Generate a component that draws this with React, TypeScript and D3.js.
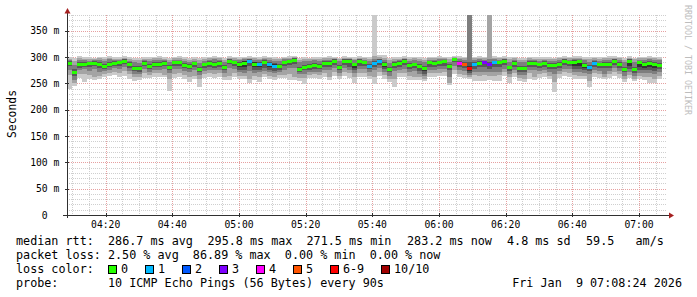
import React from "react";
import * as d3 from "d3";

// ---- time range (UTC used so the sandbox timezone does not matter) ----
const START = Date.UTC(2026, 0, 9, 4, 8, 24);
const END = Date.UTC(2026, 0, 9, 7, 8, 24);
const STEP_MS = 90 * 1000;

// ---- median rtt per 90 s step (ms) ----
const median = [
  289, 272, 286, 287, 288, 289, 287, 283, 287, 289,
  290, 293, 286, 279, 279, 289, 283, 287, 287, 289,
  282, 290, 290, 285, 283, 288, 277, 286, 289, 287,
  289, 282, 293, 290, 286, 288, 293, 286, 286, 290,
  286, 283, 283, 290, 292, 295, 278, 281, 283, 285,
  283, 289, 289, 293, 282, 293, 293, 286, 293, 290,
  283, 289, 293, 286, 278, 287, 289, 293, 285, 286,
  283, 279, 290, 289, 290, 292, 283, 296, 288, 286,
  279, 286, 289, 290, 286, 290, 290, 293, 281, 289,
  279, 279, 289, 289, 286, 289, 285, 285, 287, 293,
  290, 290, 292, 285, 281, 289, 286, 287, 287, 293,
  287, 278, 293, 278, 290, 287, 289, 287, 285,
];

// ---- lost pings per step (of 10) ----
const loss = [
  0, 0, 0, 0, 0, 0, 0, 0, 0, 0,
  0, 0, 0, 0, 0, 0, 0, 0, 0, 0,
  0, 0, 0, 0, 0, 0, 0, 0, 0, 0,
  0, 0, 0, 0, 0, 0, 1, 0, 1, 0,
  1, 1, 0, 0, 0, 0, 0, 0, 0, 0,
  0, 0, 0, 0, 0, 0, 0, 0, 0, 0,
  1, 1, 1, 0, 0, 0, 0, 0, 0, 0,
  0, 0, 0, 0, 0, 0, 0, 0, 4, 5,
  8, 1, 0, 3, 3, 1, 0, 0, 0, 0,
  0, 0, 0, 0, 0, 0, 0, 0, 0, 0,
  0, 0, 0, 0, 1, 1, 0, 0, 0, 0,
  0, 0, 0, 0, 0, 0, 0, 0, 0,
];

// ---- sorted ping values per step (ms), ping10 = highest, ping1 = lowest ----
const ping10 = [
  300, 298, 302, 301, 300, 299, 301, 300, 302, 301,
  300, 302, 301, 299, 298, 300, 301, 300, 302, 300,
  299, 301, 302, 300, 299, 300, 298, 301, 300, 302,
  301, 299, 302, 301, 300, 301, 302, 300, 301, 302,
  301, 300, 299, 301, 302, 303, 299, 300, 299, 300,
  300, 301, 302, 301, 299, 302, 301, 300, 302, 301,
  300, 380, 304, 304, 299, 301, 300, 302, 300, 301,
  300, 299, 301, 301, 302, 301, 300, 303, 302, 301,
  380, 301, 302, 301, 380, 302, 301, 302, 300, 301,
  299, 298, 301, 300, 301, 300, 300, 299, 301, 302,
  301, 302, 302, 300, 300, 301, 300, 301, 302, 302,
  301, 299, 302, 299, 301, 301, 302, 301, 300,
];
const ping9 = [
  297, 292, 298, 297, 297, 296, 298, 296, 299, 297,
  297, 299, 297, 295, 294, 297, 296, 298, 298, 297,
  295, 298, 298, 297, 295, 297, 294, 297, 298, 299,
  298, 295, 299, 298, 297, 298, 299, 298, 297, 299,
  298, 297, 296, 298, 299, 300, 295, 296, 296, 297,
  297, 298, 298, 299, 296, 299, 298, 297, 299, 298,
  297, 302, 300, 299, 294, 297, 297, 299, 297, 298,
  297, 295, 298, 298, 298, 299, 296, 300, 299, 298,
  380, 298, 299, 298, 380, 299, 298, 299, 296, 298,
  295, 295, 298, 297, 297, 297, 296, 296, 298, 299,
  298, 299, 299, 297, 296, 298, 297, 298, 298, 299,
  298, 295, 299, 296, 298, 298, 299, 298, 297,
];
const ping8 = [
  294, 285, 294, 294, 293, 294, 295, 292, 296, 295,
  295, 297, 293, 290, 289, 294, 293, 294, 295, 294,
  291, 295, 295, 293, 291, 293, 289, 293, 294, 296,
  295, 291, 297, 295, 294, 296, 297, 295, 294, 296,
  295, 293, 292, 296, 297, 298, 290, 292, 292, 294,
  293, 295, 295, 297, 292, 297, 296, 294, 297, 295,
  293, 297, 297, 294, 289, 293, 294, 297, 293, 294,
  293, 291, 295, 295, 296, 297, 291, 299, 296, 295,
  380, 294, 296, 295, 296, 296, 295, 297, 291, 295,
  290, 290, 295, 294, 293, 294, 292, 292, 294, 297,
  295, 297, 297, 294, 291, 295, 293, 294, 295, 297,
  294, 290, 297, 291, 295, 295, 296, 295, 294,
];
const ping7 = [
  292, 278, 290, 291, 291, 292, 291, 287, 291, 293,
  293, 296, 290, 284, 283, 292, 287, 291, 290, 292,
  285, 293, 293, 288, 286, 291, 281, 289, 292, 290,
  292, 285, 296, 293, 290, 293, 296, 291, 290, 294,
  290, 288, 287, 293, 295, 298, 282, 285, 287, 289,
  287, 292, 292, 296, 285, 296, 296, 289, 296, 293,
  287, 292, 296, 290, 282, 290, 292, 296, 288, 289,
  287, 284, 293, 292, 293, 295, 287, 298, 292, 290,
  290, 290, 292, 293, 291, 293, 293, 296, 284, 292,
  283, 283, 292, 292, 289, 292, 288, 288, 290, 296,
  293, 294, 295, 288, 285, 292, 289, 290, 290, 296,
  290, 282, 296, 282, 293, 290, 292, 290, 288,
];
const ping6 = [
  290, 274, 288, 288, 290, 291, 289, 285, 289, 291,
  291, 294, 288, 281, 281, 290, 285, 289, 289, 291,
  284, 291, 292, 287, 285, 290, 279, 288, 290, 289,
  291, 284, 295, 292, 289, 292, 295, 290, 289, 293,
  289, 287, 285, 292, 294, 297, 280, 283, 285, 287,
  285, 291, 291, 295, 284, 295, 295, 288, 295, 292,
  285, 291, 295, 288, 280, 289, 291, 295, 287, 288,
  285, 282, 292, 291, 292, 294, 285, 297, 290, 288,
  284, 288, 291, 292, 288, 292, 292, 295, 283, 291,
  281, 281, 291, 291, 288, 291, 287, 287, 289, 295,
  292, 293, 294, 287, 283, 291, 288, 289, 289, 295,
  289, 280, 295, 280, 292, 289, 291, 289, 287,
];
const ping5 = [
  287, 270, 284, 285, 286, 287, 285, 281, 285, 288,
  288, 291, 284, 277, 277, 287, 281, 285, 285, 287,
  280, 288, 288, 283, 281, 286, 275, 284, 287, 285,
  287, 279, 291, 288, 282, 282, 290, 281, 282, 286,
  281, 279, 281, 288, 290, 293, 276, 279, 281, 283,
  281, 287, 287, 291, 280, 291, 289, 280, 290, 288,
  281, 287, 291, 282, 276, 285, 287, 291, 283, 284,
  279, 274, 288, 287, 288, 290, 281, 295, 286, 284,
  274, 284, 287, 288, 284, 288, 288, 291, 279, 287,
  277, 277, 287, 287, 284, 287, 283, 283, 285, 291,
  288, 284, 284, 280, 279, 287, 284, 285, 285, 291,
  285, 276, 284, 275, 282, 280, 281, 279, 283,
];
const ping4 = [
  283, 264, 280, 282, 282, 283, 279, 277, 281, 284,
  284, 287, 279, 273, 272, 283, 277, 281, 281, 283,
  276, 284, 284, 279, 277, 281, 271, 279, 282, 280,
  282, 275, 286, 283, 276, 276, 283, 275, 276, 280,
  276, 274, 276, 283, 285, 287, 272, 275, 276, 278,
  277, 282, 282, 285, 276, 285, 282, 275, 284, 283,
  277, 282, 285, 277, 271, 280, 282, 285, 278, 279,
  274, 268, 282, 282, 283, 284, 275, 290, 281, 279,
  270, 278, 281, 282, 278, 282, 281, 285, 274, 282,
  272, 272, 282, 282, 279, 282, 278, 277, 280, 285,
  283, 278, 278, 275, 273, 282, 279, 279, 280, 285,
  280, 271, 278, 270, 276, 275, 276, 273, 278,
];
const ping3 = [
  276, 256, 275, 277, 274, 278, 272, 273, 276, 279,
  278, 281, 274, 267, 268, 277, 272, 275, 276, 277,
  270, 277, 278, 273, 271, 275, 266, 273, 276, 275,
  276, 270, 280, 277, 271, 270, 274, 270, 271, 274,
  271, 269, 271, 276, 279, 280, 267, 268, 271, 272,
  272, 276, 276, 279, 270, 279, 276, 269, 278, 277,
  271, 276, 279, 271, 265, 274, 276, 278, 272, 273,
  268, 264, 276, 276, 277, 278, 262, 283, 275, 273,
  266, 272, 272, 272, 271, 272, 272, 278, 268, 276,
  266, 266, 276, 275, 273, 276, 272, 268, 274, 278,
  277, 272, 272, 270, 267, 276, 273, 268, 274, 279,
  274, 265, 272, 265, 270, 269, 270, 267, 272,
];
const ping2 = [
  266, 251, 268, 268, 266, 262, 265, 268, 270, 272,
  270, 273, 267, 262, 263, 270, 266, 269, 270, 266,
  258, 268, 270, 266, 262, 265, 258, 267, 269, 268,
  269, 262, 265, 270, 265, 264, 258, 265, 262, 268,
  265, 263, 266, 266, 268, 262, 261, 260, 266, 267,
  266, 269, 262, 272, 264, 271, 269, 262, 270, 270,
  264, 262, 271, 266, 259, 258, 270, 270, 265, 262,
  262, 259, 269, 269, 270, 271, 250, 275, 268, 266,
  262, 266, 265, 266, 265, 265, 266, 271, 262, 269,
  260, 258, 269, 262, 267, 269, 265, 252, 267, 271,
  270, 266, 265, 264, 255, 269, 267, 262, 268, 272,
  268, 259, 266, 259, 264, 263, 262, 258, 265,
];
const ping1 = [
  240, 246, 260, 253, 258, 257, 259, 262, 264, 266,
  262, 265, 258, 255, 257, 261, 260, 262, 263, 262,
  236, 260, 263, 259, 252, 258, 244, 260, 262, 261,
  262, 257, 257, 263, 259, 258, 251, 256, 253, 262,
  259, 257, 260, 260, 257, 257, 255, 249, 260, 261,
  259, 262, 257, 265, 258, 264, 261, 251, 263, 263,
  258, 249, 264, 259, 253, 244, 263, 262, 257, 257,
  256, 254, 263, 262, 264, 264, 247, 268, 262, 260,
  258, 255, 255, 255, 256, 255, 255, 264, 251, 263,
  254, 252, 258, 256, 260, 262, 258, 234, 260, 264,
  263, 259, 258, 258, 243, 262, 260, 258, 261, 265,
  261, 253, 260, 254, 258, 257, 251, 251, 259,
];

// ---- legend / axis labels ----
const lossLabels = ["0", "1", "2", "3", "4", "5", "6-9", "10/10"];
const lossColors = ["#26ff00", "#00b8ff", "#0059ff", "#7e00ff", "#ff00fe", "#ff5500", "#ff0000", "#a10000"];
const smokeColors = ["#cacaca", "#a4a4a4", "#7e7e7e", "#585858", "#323232"];
const yTicks = [0, 50, 100, 150, 200, 250, 300, 350];
const rttLine = [
  { x: 16, t: "median rtt:" },
  { x: 108, t: "286.7 ms avg" },
  { x: 207.5, t: "295.8 ms max" },
  { x: 306.5, t: "271.5 ms min" },
  { x: 407, t: "283.2 ms now" },
  { x: 507, t: "4.8 ms sd" },
  { x: 586, t: "59.5" },
  { x: 635.5, t: "am/s" },
];
const lossLine = "packet loss: 2.50 % avg  86.89 % max  0.00 % min  0.00 % now";
const probeText = "10 ICMP Echo Pings (56 Bytes) every 90s";
const stampText = "Fri Jan  9 07:08:24 2026";

const MONO = "'DejaVu Sans Mono', monospace";

function lossClass(n: number) {
  if (n <= 5) return n;
  if (n < 10) return 6;
  return 7;
}

export default function App() {
  const W = 697, H = 297;
  const L = 67, R = 667, T = 15, B = 215;
  const x = d3.scaleUtc().domain([new Date(START), new Date(END)]).range([L, R]);
  const y = d3.scaleLinear().domain([0, 380]).range([B, T]);

  const majorX = d3.utcMinute.every(20)!.range(new Date(START), new Date(END));
  const minorX = d3.utcMinute.every(5)!.range(new Date(START), new Date(END))
    .filter((d) => d.getUTCMinutes() % 20 !== 0);
  const minorY = d3.range(10, 381, 10).filter((v) => v % 50 !== 0);
  const majorY = yTicks.filter((v) => v > 0);
  const fmt = d3.utcFormat("%H:%M");

  const layers = [
    [ping1, ping10],
    [ping2, ping9],
    [ping3, ping8],
    [ping4, ping7],
    [ping5, ping6],
  ];

  const steps = median.map((m, k) => {
    const x0 = Math.round(x(new Date(START + k * STEP_MS)));
    const x1 = Math.round(x(new Date(START + (k + 1) * STEP_MS)));
    return { k, x0, w: x1 - x0, m };
  });

  const charW = 7.08;
  let bx = 108;
  const boxes = lossLabels.map((lab, i) => {
    const item = { lab, color: lossColors[i], x: bx };
    bx += 13 + lab.length * charW + 16.9;
    return item;
  });

  return (
    <svg width={W} height={H} style={{ position: "absolute", left: 0, top: 0, background: "#fff" }}
      xmlns="http://www.w3.org/2000/svg">
      <rect x={0} y={0} width={W} height={H} fill="#ffffff" />
      {/* grid */}
      <g shapeRendering="crispEdges" strokeWidth={1} strokeDasharray="1,1">
        {minorY.map((v) => (
          <line key={"my" + v} x1={L} x2={R} y1={Math.round(y(v)) + 0.5} y2={Math.round(y(v)) + 0.5} stroke="#cfcfcf" />
        ))}
        {minorX.map((d) => (
          <line key={"mx" + +d} y1={T} y2={B} x1={Math.round(x(d)) + 0.5} x2={Math.round(x(d)) + 0.5} stroke="#cfcfcf" />
        ))}
        {majorY.map((v) => (
          <line key={"My" + v} x1={L} x2={R} y1={Math.round(y(v)) + 0.5} y2={Math.round(y(v)) + 0.5} stroke="#e6a0a0" />
        ))}
        {majorX.map((d) => (
          <line key={"Mx" + +d} y1={T} y2={B} x1={Math.round(x(d)) + 0.5} x2={Math.round(x(d)) + 0.5} stroke="#e6a0a0" />
        ))}
      </g>
      {/* smoke */}
      <g shapeRendering="crispEdges">
        {layers.map(([lo, hi], li) =>
          steps.map((s) => {
            const yt = Math.round(y(hi[s.k]));
            const yb = Math.round(y(lo[s.k]));
            return <rect key={li + "-" + s.k} x={s.x0} y={yt} width={s.w} height={Math.max(1, yb - yt)} fill={smokeColors[li]} />;
          })
        )}
      </g>
      {/* median */}
      <g shapeRendering="crispEdges">
        {steps.map((s) => (
          <rect key={"m" + s.k} x={s.x0} y={Math.round(y(s.m)) - 1} width={s.w} height={3}
            fill={lossColors[lossClass(loss[s.k])]} />
        ))}
      </g>
      {/* axes */}
      <g shapeRendering="crispEdges" stroke="#303030" strokeWidth={1}>
        <line x1={L - 4} x2={R + 3} y1={B + 0.5} y2={B + 0.5} />
        <line x1={L + 0.5} x2={L + 0.5} y1={B + 3} y2={T - 2} />
        {majorY.map((v) => (
          <line key={"ty" + v} x1={L - 2} x2={L + 2} y1={Math.round(y(v)) + 0.5} y2={Math.round(y(v)) + 0.5} />
        ))}
        {majorX.map((d) => (
          <line key={"tx" + +d} y1={B - 2} y2={B + 2} x1={Math.round(x(d)) + 0.5} x2={Math.round(x(d)) + 0.5} />
        ))}
      </g>
      <polygon points={`${L + 0.5},8 ${L - 2.5},13.5 ${L + 3.5},13.5`} fill="#a52020" />
      <polygon points={`674,${B + 0.5} 669,${B - 2.5} 669,${B + 3.5}`} fill="#a52020" />
      {/* tick labels */}
      <g fontFamily={MONO} fontSize={9.7} fill="#000">
        {yTicks.map((v) => (
          <text key={"yl" + v} x={v === 0 ? 59.3 - 2 * 5.84 : 59.3} y={y(v) + 3.6} textAnchor="end">
            {v === 0 ? "0" : `${v} m`}
          </text>
        ))}
        {majorX.map((d) => (
          <text key={"xl" + +d} x={x(d)} y={228.3} textAnchor="middle">{fmt(d)}</text>
        ))}
      </g>
      <text transform="translate(15.5,114) rotate(-90)" textAnchor="middle" fontFamily={MONO} fontSize={11.4} fill="#000">
        Seconds
      </text>
      <text transform="translate(684.5,5) rotate(90)" fontFamily={MONO} fontSize={8.3} fill="#bdbdbd">
        RRDTOOL / TOBI OETIKER
      </text>
      {/* legend */}
      <g fontFamily={MONO} fontSize={11.75} fill="#000" style={{ whiteSpace: "pre" }}>
        {rttLine.map((s) => (
          <text key={s.t} x={s.x} y={245}>{s.t}</text>
        ))}
        <text x={16} y={259} xmlSpace="preserve">{lossLine}</text>
        <text x={16} y={273}>loss color:</text>
        {boxes.map((b) => (
          <g key={b.lab}>
            <rect x={Math.round(b.x) + 0.5} y={265.5} width={8} height={8} fill={b.color} stroke="#000" strokeWidth={1} shapeRendering="crispEdges" />
            <text x={b.x + 13} y={273}>{b.lab}</text>
          </g>
        ))}
        <text x={16} y={287}>probe:</text>
        <text x={108} y={287}>{probeText}</text>
        <text x={682} y={287} textAnchor="end" xmlSpace="preserve">{stampText}</text>
      </g>
    </svg>
  );
}
